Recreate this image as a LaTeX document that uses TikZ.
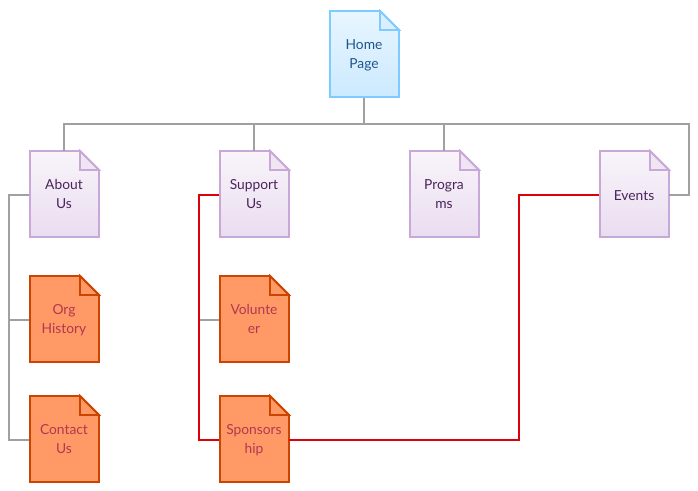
\documentclass[tikz,border=0pt]{standalone}
\usepackage{fontspec}
\setmainfont{Lato}
\usepackage{xcolor}
\definecolor{homeedge}{RGB}{127,202,255}
\definecolor{hometext}{RGB}{30,85,140}
\definecolor{sectionedge}{RGB}{201,168,216}
\definecolor{sectiontext}{RGB}{74,35,90}
\definecolor{subedge}{RGB}{204,68,0}
\definecolor{subfill}{RGB}{255,153,102}
\definecolor{subtext}{RGB}{176,56,80}
\definecolor{linkgray}{RGB}{160,160,160}
\definecolor{linkred}{RGB}{220,0,10}
\usetikzlibrary{calc}

% Keeps every label at the same height, with or without descenders
\newcommand{\pagestrut}{\rule[-5.3pt]{0pt}{19pt}}

% Sheet with a folded corner: #1 style family, #2 node name, #3 centre, #4 text
\newcommand{\docpage}[4]{%
  \path[#1, shift={(#3)}] (-34.5,-43) -- (15.5,-43) -- (34.5,-24) -- (34.5,43) -- (-34.5,43) -- cycle;
  \path[#1 fold, shift={(#3)}] (15.5,-43) -- (34.5,-24) -- (15.5,-24) -- cycle;
  \node[pagelabel, #1 text, xshift=-0.5pt, yshift=-0.6pt] (#2) at (#3) {\pagestrut #4\pagestrut};
}

\begin{document}
\begin{tikzpicture}[
    x=1pt, y=-1pt,
    pagelabel/.style={rectangle, minimum width=69pt, minimum height=86pt, inner sep=0pt, align=center,
        font=\fontsize{13.8}{19}\selectfont},
    homepage/.style={draw=homeedge, line width=1.8pt, top color=homeedge!18, bottom color=homeedge!40},
    homepage fold/.style={draw=homeedge, line width=1.8pt, fill=homeedge!30},
    homepage text/.style={text=hometext},
    sectionpage/.style={draw=sectionedge, line width=1.8pt, top color=sectionedge!12, bottom color=sectionedge!40},
    sectionpage fold/.style={draw=sectionedge, line width=1.8pt, fill=sectionedge!30},
    sectionpage text/.style={text=sectiontext},
    subpage/.style={draw=subedge, line width=1.8pt, fill=subfill},
    subpage fold/.style={draw=subedge, line width=1.8pt, fill=subfill},
    subpage text/.style={text=subtext},
    graylink/.style={draw=linkgray, line width=2pt},
    redlink/.style={draw=linkred, line width=2pt}
]
\useasboundingbox (0,0) rectangle (698,490);

% Pages
\docpage{homepage}{home}{364.5,54}{Home\\Page}
\docpage{sectionpage}{about}{64.5,194}{About\\Us}
\docpage{sectionpage}{support}{254.5,194}{Support\\Us}
\docpage{sectionpage}{programs}{444.5,194}{Progra\\ms}
\docpage{sectionpage}{events}{634.5,194}{\raisebox{-1.2pt}{Events}}
\docpage{subpage}{org}{64.5,319}{Org\\History}
\docpage{subpage}{contact}{64.5,439}{Contact\\Us}
\docpage{subpage}{volunteer}{254.5,319}{Volunte\\er}
\docpage{subpage}{sponsor}{254.5,439}{Sponsors\\hip}

% Tree links
\draw[graylink] (home.south) -- ++(0,26.4) -| (about.north);
\draw[graylink] (home.south) -- ++(0,26.4) -| (support.north);
\draw[graylink] (home.south) -- ++(0,26.4) -| (programs.north);
\draw[graylink] (home.south) -- ++(0,26.4) -- ++(325,0) |- (events.east);
\draw[graylink] (about.west) -- ++(-20.5,0) |- (org.west);
\draw[graylink] (about.west) -- ++(-20.5,0) |- (contact.west);
\draw[graylink] (support.west) -- ++(-20.5,0) |- (volunteer.west);

% Highlighted route
\draw[redlink] (support.west) -- ++(-20.5,0) |- (sponsor.west);
\draw[redlink] (sponsor.east) -- ++(230.5,0) |- (events.west);

\end{tikzpicture}
\end{document}
